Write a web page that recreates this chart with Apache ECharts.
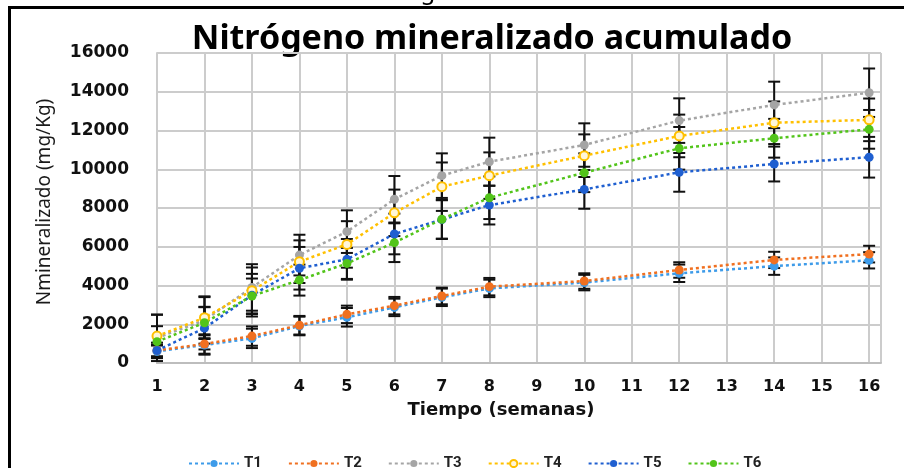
<!DOCTYPE html>
<html>
<head>
<meta charset="utf-8">
<script src="https://cdn.jsdelivr.net/npm/echarts@6/dist/echarts.min.js"></script>
<style>
  html, body { margin: 0; padding: 0; background: #fff; }
  #chart { width: 904px; height: 468px; }
</style>
</head>
<body>
<div id="chart"></div>
<script>
// weeks with measurements (9, 11, 13, 15 only on the axis)
const weeks = [1, 2, 3, 4, 5, 6, 7, 8, 10, 12, 14, 16];
const names = ['T1', 'T2', 'T3', 'T4', 'T5', 'T6'];
const colors = ['#3d9be9', '#f07020', '#a5a5a5', '#ffc000', '#1f5fd0', '#52c41a'];

const T1 = [600, 930, 1270, 1910, 2360, 2870, 3390, 3850, 4150, 4630, 5000, 5300];
const T2 = [650, 980, 1390, 1950, 2510, 2960, 3460, 3940, 4230, 4800, 5320, 5620];
const T3 = [1300, 2200, 3900, 5570, 6780, 8450, 9670, 10390, 11250, 12510, 13320, 13950];
const T4 = [1390, 2340, 3730, 5230, 6120, 7750, 9100, 9670, 10700, 11720, 12400, 12550];
const T5 = [650, 1800, 3500, 4890, 5350, 6660, 7400, 8150, 8960, 9840, 10270, 10620];
const T6 = [1100, 2080, 3460, 4280, 5140, 6210, 7420, 8530, 9820, 11080, 11600, 12060];

// error bar half lengths
const E1 = [300, 500, 500, 480, 480, 450, 450, 450, 400, 450, 450, 420];
const E2 = [300, 500, 500, 480, 450, 450, 430, 450, 400, 400, 420, 430];
const E3 = [1200, 1200, 1200, 1050, 1100, 1200, 1150, 1240, 1120, 1150, 1200, 1250];
const E4 = [1100, 1100, 1200, 1100, 1200, 1200, 1250, 1200, 1100, 1100, 1100, 1100];
const E5 = [400, 1100, 1100, 1100, 1050, 1050, 1000, 1000, 1000, 1000, 900, 1050];
const E6 = [800, 800, 900, 800, 800, 1000, 1000, 1100, 1000, 1100, 1000, 1000];

const values = [T1, T2, T3, T4, T5, T6];
const errors = [E1, E2, E3, E4, E5, E6];

const chart = echarts.init(document.getElementById('chart'));

function errorBar(params, api) {
    const lo = api.coord([api.value(0), api.value(1)]);
    const hi = api.coord([api.value(0), api.value(2)]);
    const w = 6;
    const style = { stroke: '#111', lineWidth: 2 };
    return {
        type: 'group',
        children: [
            { type: 'line', shape: { x1: lo[0], y1: lo[1], x2: hi[0], y2: hi[1] }, style: style },
            { type: 'line', shape: { x1: lo[0] - w, y1: lo[1], x2: lo[0] + w, y2: lo[1] }, style: style },
            { type: 'line', shape: { x1: hi[0] - w, y1: hi[1], x2: hi[0] + w, y2: hi[1] }, style: style }
        ]
    };
}

const series = [];
values.forEach((vals, i) => {
    series.push({
        name: names[i] + ' err',
        type: 'custom',
        renderItem: errorBar,
        data: weeks.map((w, j) => [w, vals[j] - errors[i][j], vals[j] + errors[i][j]]),
        z: 3,
        silent: true
    });
});
values.forEach((vals, i) => {
    series.push({
        name: names[i],
        type: 'line',
        data: weeks.map((w, j) => [w, vals[j]]),
        symbol: 'circle',
        symbolSize: 9,
        itemStyle: i === 3
            ? { color: '#fff6d8', borderColor: colors[i], borderWidth: 2 }
            : { color: colors[i] },
        lineStyle: { color: colors[i], width: 2.5, type: [3, 3] },
        z: 4
    });
});

chart.setOption({
    animation: false,
    color: colors,
    grid: { left: 157, right: 23, top: 53, bottom: 105 },
    legend: {
        data: names,
        left: 183,
        top: 451,
        itemWidth: 50,
        itemHeight: 9,
        itemGap: 26,
        textStyle: {
            fontFamily: 'Liberation Sans Narrow, Roboto, sans-serif',
            fontSize: 15,
            fontWeight: 'bold',
            color: '#222'
        }
    },
    xAxis: {
        type: 'value',
        min: 1,
        max: 16.25,
        interval: 1,
        axisLine: { lineStyle: { color: '#bdbdbd', width: 2 } },
        axisTick: { show: false },
        splitLine: { lineStyle: { color: '#cccccc', width: 2 } },
        axisLabel: {
            margin: 16,
            color: '#111',
            fontFamily: 'DejaVu Sans',
            fontWeight: 'bold',
            fontSize: 16,
            showMaxLabel: false,
            formatter: v => Number.isInteger(v) ? String(v) : ''
        }
    },
    yAxis: {
        type: 'value',
        min: 0,
        max: 16000,
        interval: 2000,
        axisLine: { show: true, lineStyle: { color: '#cccccc', width: 2 } },
        axisTick: { show: false },
        splitLine: { lineStyle: { color: '#cccccc', width: 2 } },
        axisLabel: {
            margin: 28,
            color: '#111',
            fontFamily: 'DejaVu Sans',
            fontWeight: 'bold',
            fontSize: 17,
            formatter: v => String(v)
        }
    },
    graphic: [
        { type: 'rect', shape: { x: 9.5, y: 7.5, width: 1000, height: 600 }, style: { fill: 'none', stroke: '#000', lineWidth: 3 }, silent: true },
        { type: 'text', x: 428, y: -20, style: { text: 'g', fontFamily: 'Noto Sans', fontSize: 24, fill: '#000', align: 'center' }, silent: true },
        {
            type: 'text', x: 492, y: 39,
            style: { text: 'Nitrógeno mineralizado acumulado', fontFamily: 'Noto Sans', fontWeight: 'bold', fontSize: 34, fill: '#000', align: 'center', verticalAlign: 'middle' }
        },
        {
            type: 'text', x: 501, y: 410,
            style: { text: 'Tiempo (semanas)', fontFamily: 'DejaVu Sans', fontWeight: 'bold', fontSize: 18, fill: '#111', align: 'center', verticalAlign: 'middle' }
        },
        {
            type: 'text', x: 45, y: 202, rotation: Math.PI / 2,
            style: { text: 'Nmineralizado (mg/Kg)', fontFamily: 'Noto Sans', fontSize: 19, fill: '#1a1a1a', align: 'center', verticalAlign: 'middle' }
        }
    ],
    series: series
});
</script>
</body>
</html>
